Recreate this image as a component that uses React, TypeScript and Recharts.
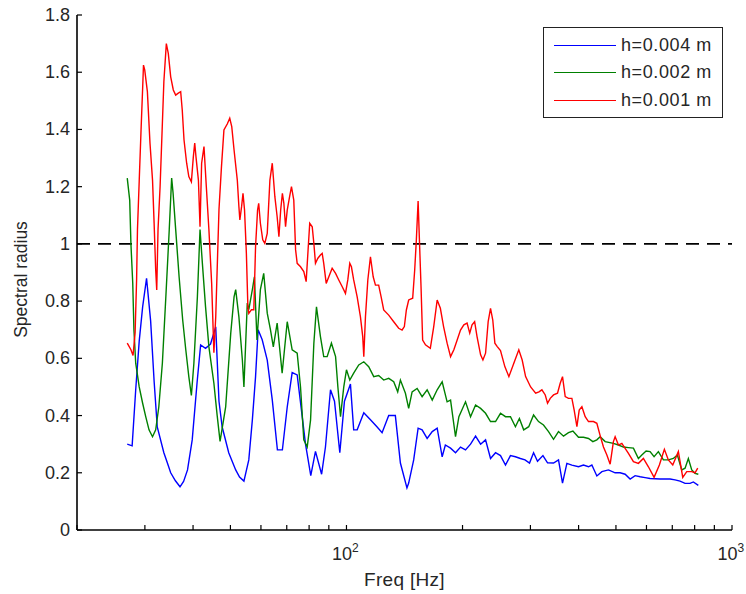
import React from 'react';
import { LineChart, Line, XAxis, YAxis, ReferenceLine, Legend } from 'recharts';

// [frequency in Hz, spectral radius]
const blueSeries: [number, number][] = [
  [27.0, 0.30], [27.8, 0.294], [28.4, 0.49], [29.0, 0.66], [29.6, 0.78], [30.3, 0.88], [31.05, 0.73], [31.7, 0.52],
  [32.3, 0.36], [33.6, 0.27], [34.3, 0.235], [35.0, 0.20], [36.0, 0.172], [37.0, 0.151], [37.8, 0.17], [38.7, 0.21], [39.8, 0.315], [41.0, 0.52], [41.85, 0.647],
  [43.1, 0.635], [44.4, 0.65], [45.8, 0.71], [46.7, 0.45], [47.6, 0.36], [49.5, 0.27], [51.6, 0.21], [52.8, 0.185], [54.2, 0.171],
  [55.8, 0.245], [57.0, 0.385], [58.1, 0.536], [59.0, 0.70], [60.45, 0.665], [62.3, 0.594], [64.2, 0.455], [66.2, 0.28],
  [68.2, 0.28], [70.2, 0.43], [72.3, 0.55], [74.5, 0.542], [76.4, 0.42], [78.3, 0.30], [80.8, 0.19], [83.1, 0.275],
  [86.2, 0.195], [88.2, 0.29], [90.9, 0.49], [93.1, 0.45], [96.1, 0.27], [98.8, 0.45], [102.4, 0.51], [104.4, 0.35],
  [106.6, 0.35], [110.9, 0.41], [115.4, 0.385], [120.1, 0.36], [123.7, 0.34], [128.7, 0.40], [133.9, 0.40], [138.0, 0.234],
  [143.5, 0.147], [145.0, 0.164], [149.4, 0.245], [153.4, 0.356], [157.1, 0.35], [161.9, 0.32], [166.9, 0.344], [171.9, 0.356],
  [177.1, 0.256], [180.5, 0.297], [186.2, 0.286], [191.8, 0.27], [197.6, 0.29], [203.6, 0.28], [209.8, 0.30], [216.2, 0.328],
  [222.8, 0.30], [229.5, 0.315], [236.4, 0.25], [243.6, 0.27], [250.9, 0.26], [258.5, 0.227], [266.3, 0.26], [274.3, 0.256],
  [282.6, 0.25], [290.5, 0.245], [298.4, 0.234], [305.7, 0.27], [313.0, 0.24], [323.3, 0.26], [332.3, 0.235], [344.4, 0.234],
  [354.8, 0.245], [363.4, 0.164], [373.0, 0.233], [384.3, 0.227], [399.8, 0.221], [411.9, 0.227], [424.4, 0.221], [433.0, 0.227],
  [446.1, 0.189], [459.7, 0.204], [478.1, 0.21], [497.6, 0.2], [512.6, 0.2], [528.2, 0.195], [544.2, 0.178], [560.7, 0.19],
  [577.8, 0.186], [595.1, 0.183], [613.1, 0.18], [650.8, 0.178], [690.8, 0.178], [711.7, 0.175], [733.3, 0.171], [755.5, 0.163],
  [778.3, 0.163], [793.8, 0.168], [817.8, 0.156],
];

const greenSeries: [number, number][] = [
  [27.0, 1.23], [27.4, 1.153], [27.6, 1.0], [27.9, 0.863], [28.1, 0.70], [28.4, 0.583], [29.0, 0.50], [29.6, 0.443],
  [30.15, 0.396], [30.75, 0.35], [31.4, 0.326], [32.0, 0.35], [32.6, 0.43], [33.3, 0.583], [34.0, 0.815], [34.7, 1.05],
  [35.2, 1.23], [35.5, 1.178], [36.06, 1.05], [36.8, 0.885], [37.6, 0.734], [38.3, 0.63], [39.0, 0.536], [39.6, 0.47],
  [40.2, 0.583], [41.05, 0.815], [41.7, 1.05], [42.3, 0.93], [43.1, 0.78], [43.97, 0.64], [45.3, 0.513], [46.2, 0.40], [47.0, 0.31],
  [48.6, 0.43], [50.1, 0.688], [51.1, 0.815], [51.6, 0.84], [52.6, 0.745], [53.7, 0.594], [54.2, 0.50], [55.3, 0.793],
  [55.8, 0.77], [57.0, 0.84], [57.7, 0.885], [58.6, 0.664], [59.8, 0.84], [61.0, 0.897], [62.3, 0.758], [63.5, 0.70],
  [64.6, 0.64], [66.1, 0.723], [68.1, 0.548], [70.2, 0.728], [72.3, 0.63], [74.5, 0.618], [76.0, 0.50], [77.5, 0.315],
  [79.1, 0.29], [80.7, 0.385], [82.3, 0.653], [83.6, 0.78], [85.6, 0.676], [87.3, 0.606], [89.1, 0.606], [91.4, 0.653],
  [93.7, 0.606], [95.0, 0.50], [96.5, 0.396], [98.4, 0.50], [100, 0.56], [102.0, 0.524], [104.4, 0.548], [107.6, 0.577],
  [110.9, 0.588], [114.2, 0.571], [117.7, 0.536], [121.2, 0.54], [124.9, 0.524], [128.7, 0.53], [132.6, 0.518], [135.8, 0.483],
  [138.0, 0.524], [142.2, 0.478], [145.0, 0.425], [148.0, 0.483], [152.5, 0.495], [157.1, 0.466], [161.9, 0.49], [166.9, 0.454],
  [171.9, 0.49], [177.1, 0.518], [182.4, 0.448], [186.2, 0.454], [191.8, 0.326], [195.7, 0.396], [203.6, 0.448], [209.8, 0.396],
  [216.2, 0.437], [222.8, 0.425], [229.5, 0.408], [236.4, 0.379], [243.6, 0.379], [250.9, 0.408], [258.5, 0.396], [266.3, 0.396],
  [274.3, 0.361], [280.9, 0.39], [288.2, 0.35], [297.0, 0.361], [305.7, 0.402], [314.9, 0.379], [324.4, 0.367], [334.3, 0.344],
  [344.4, 0.317], [354.8, 0.344], [365.6, 0.328], [376.6, 0.34], [386.7, 0.346], [399.8, 0.324], [411.9, 0.324], [424.4, 0.32],
  [435.6, 0.309], [446.1, 0.315], [455.0, 0.326], [468.8, 0.309], [492.5, 0.303], [507.5, 0.297], [522.8, 0.29], [538.7, 0.288],
  [555.0, 0.286], [571.8, 0.25], [583.5, 0.262], [598.7, 0.276], [613.1, 0.274], [627.9, 0.256], [644.2, 0.274], [663.8, 0.245],
  [683.8, 0.245], [704.5, 0.25], [721.6, 0.262], [740.7, 0.21], [755.5, 0.216], [770.5, 0.25], [786.3, 0.21], [801.9, 0.198],
  [817.8, 0.195],
];

const redSeries: [number, number][] = [
  [27.0, 0.653], [27.6, 0.63], [27.95, 0.61], [28.3, 0.69], [28.55, 0.874], [28.7, 1.05], [29.0, 1.22], [29.3, 1.387],
  [29.6, 1.544], [29.75, 1.625], [29.97, 1.608], [30.45, 1.532], [30.93, 1.352], [31.4, 1.223], [31.7, 1.072], [32.0, 0.909],
  [32.2, 0.839], [32.45, 1.05], [32.85, 1.20], [33.3, 1.42], [33.6, 1.567], [34.1, 1.70], [34.5, 1.666], [35.0, 1.584],
  [35.55, 1.538], [36.06, 1.52], [36.55, 1.526], [37.15, 1.532], [37.5, 1.468], [37.9, 1.363], [38.5, 1.282], [39.0, 1.235],
  [39.6, 1.217], [40.07, 1.305], [40.4, 1.352], [40.7, 1.305], [41.3, 1.223], [41.7, 1.06], [42.1, 1.282], [42.7, 1.34],
  [43.3, 1.20], [43.97, 1.05], [44.7, 0.862], [45.3, 0.62], [45.8, 0.745], [46.7, 1.12], [47.4, 1.27], [48.1, 1.398],
  [49.1, 1.42], [49.8, 1.439], [50.4, 1.41], [51.1, 1.328], [52.1, 1.223], [52.6, 1.13], [52.9, 1.084], [53.45, 1.13],
  [53.9, 1.177], [54.4, 1.118], [55.0, 0.967], [55.5, 0.78], [55.8, 0.757], [56.7, 0.77], [57.5, 0.77], [58.1, 0.99],
  [58.8, 1.118], [59.2, 1.142], [59.8, 1.072], [60.65, 1.014], [61.4, 1.002], [62.3, 1.037], [63.3, 1.223], [64.2, 1.282],
  [65.2, 1.165], [66.1, 1.095], [66.8, 1.025], [67.5, 1.118], [68.2, 1.177], [68.8, 1.142], [69.5, 1.06], [70.2, 1.118],
  [71.2, 1.165], [72.0, 1.20], [73.0, 1.153], [73.8, 0.979], [74.5, 0.932], [76.0, 0.92], [77.5, 0.903], [78.6, 0.868],
  [79.6, 0.99], [80.3, 1.072], [81.5, 1.06], [82.3, 1.002], [83.1, 0.932], [84.3, 0.95], [85.6, 0.961], [86.5, 0.967],
  [87.3, 0.932], [88.6, 0.862], [90.0, 0.885], [91.8, 0.915], [93.7, 0.897], [95.5, 0.874], [97.5, 0.85], [99.4, 0.827],
  [100.8, 0.874], [102.0, 0.932], [103.0, 0.92], [104.4, 0.874], [106.6, 0.815], [108.7, 0.745], [110.2, 0.676], [110.9, 0.606],
  [112.0, 0.745], [113.6, 0.874], [115.4, 0.955], [117.3, 0.885], [118.9, 0.856], [121.2, 0.856], [123.0, 0.815], [124.9, 0.769],
  [128.7, 0.751], [132.6, 0.728], [136.6, 0.705], [139.4, 0.699], [141.3, 0.711], [143.0, 0.769], [145.0, 0.804], [148.5, 0.81],
  [150.3, 0.909], [151.8, 1.014], [153.4, 1.15], [154.6, 1.014], [156.1, 0.85], [157.6, 0.664], [160.3, 0.647], [165.0, 0.635],
  [168.4, 0.711], [171.9, 0.804], [175.2, 0.775], [178.6, 0.711], [182.4, 0.653], [186.2, 0.606], [189.9, 0.63], [193.7, 0.664],
  [197.6, 0.699], [201.6, 0.717], [205.5, 0.723], [208.8, 0.688], [211.7, 0.717], [215.0, 0.728], [218.1, 0.676], [222.8, 0.612],
  [225.9, 0.594], [229.5, 0.618], [233.1, 0.728], [236.4, 0.775], [239.6, 0.734], [242.6, 0.653], [246.1, 0.641], [250.9, 0.627],
  [257.5, 0.571], [263.8, 0.536], [271.7, 0.583], [279.9, 0.63], [285.6, 0.594], [291.5, 0.536], [300.4, 0.50], [309.5, 0.478],
  [315.7, 0.483], [321.3, 0.49], [327.8, 0.472], [332.3, 0.443], [337.7, 0.46], [344.4, 0.472], [352.7, 0.478], [358.4, 0.513],
  [363.4, 0.536], [369.3, 0.466], [376.6, 0.46], [384.3, 0.46], [389.6, 0.419], [396.0, 0.361], [401.5, 0.419], [408.0, 0.431],
  [416.1, 0.396], [424.4, 0.379], [437.2, 0.379], [446.1, 0.373], [455.0, 0.33], [464.1, 0.29], [473.6, 0.262], [483.0, 0.23],
  [492.5, 0.309], [497.6, 0.326], [507.5, 0.297], [517.9, 0.303], [538.7, 0.268], [555.0, 0.239], [571.8, 0.233], [589.1, 0.25],
  [607.0, 0.221], [627.9, 0.184], [648.1, 0.227], [667.7, 0.282], [683.8, 0.245], [702.0, 0.227], [725.9, 0.274], [745.2, 0.184],
  [763.2, 0.204], [786.3, 0.204], [801.9, 0.20], [814.9, 0.216],
];

const xTicks = [20, 30, 40, 50, 60, 70, 80, 90, 100, 200, 300, 400, 500, 600, 700, 800, 900, 1000];
const xLabelExponents: Record<number, string> = { 100: '2', 1000: '3' };
const yTicks = [0, 0.2, 0.4, 0.6, 0.8, 1, 1.2, 1.4, 1.6, 1.8];
const seriesNames = ['h=0.004 m', 'h=0.002 m', 'h=0.001 m'];
const seriesColors = ['#0000ff', '#008000', '#ff0000'];
const thresholdValue = 1;

const FONT = '"Liberation Sans", Arial, Helvetica, sans-serif';
const TEXT_COLOR = '#262626';

const toRows = (s: [number, number][]) => s.map(([f, v]) => ({ f, v }));

const BottomTick = (props: any) => {
  const { x, y, payload } = props;
  const exp = xLabelExponents[payload.value];
  return (
    <g>
      <line x1={x} x2={x} y1={y} y2={y - 5} stroke="#000" strokeWidth={1.2} />
      {exp && (
        <text x={x - 14.5} y={y + 30} fontSize={18} fontFamily={FONT} fill={TEXT_COLOR} textAnchor="start">
          10
          <tspan dy={-8} fontSize={12}>{exp}</tspan>
        </text>
      )}
    </g>
  );
};

const TopTick = (props: any) => {
  const { x, y } = props;
  return <line x1={x} x2={x} y1={y} y2={y + 5} stroke="#000" strokeWidth={1.2} />;
};

const LeftTick = (props: any) => {
  const { x, y, payload } = props;
  const label = String(Number(payload.value.toFixed(1)));
  return (
    <g>
      <line x1={x} x2={x + 5} y1={y} y2={y} stroke="#000" strokeWidth={1.2} />
      <text x={x - 7} y={y + 6} fontSize={18} fontFamily={FONT} fill={TEXT_COLOR} textAnchor="end">
        {label}
      </text>
    </g>
  );
};

const RightTick = (props: any) => {
  const { x, y } = props;
  return <line x1={x} x2={x - 5} y1={y} y2={y} stroke="#000" strokeWidth={1.2} />;
};

const XLabel = (props: any) => {
  const { viewBox } = props;
  const cx = viewBox.x + viewBox.width / 2;
  return (
    <text x={cx} y={viewBox.y + 56} fontSize={19} fontFamily={FONT} fill={TEXT_COLOR} textAnchor="middle" letterSpacing={0.3}>
      Freq [Hz]
    </text>
  );
};

const YLabel = (props: any) => {
  const { viewBox } = props;
  const cy = viewBox.y + viewBox.height / 2 + 7;
  const bx = viewBox.x + 27;
  return (
    <text
      x={bx}
      y={cy}
      fontSize={17.5}
      fontFamily={FONT}
      fill={TEXT_COLOR}
      textAnchor="middle"
      transform={`rotate(-90, ${bx}, ${cy})`}
    >
      Spectral radius
    </text>
  );
};

const LegendBox = () => (
  <div
    style={{
      width: 180,
      height: 91,
      border: '1px solid #222',
      background: '#fff',
      boxSizing: 'border-box',
      position: 'relative',
      fontFamily: FONT,
      fontSize: 18,
      color: TEXT_COLOR,
    }}
  >
    {seriesNames.map((n, i) => (
      <div
        key={n}
        style={{
          position: 'absolute',
          left: 10,
          top: 17 + i * 27.7 - 11,
          height: 22,
          display: 'flex',
          alignItems: 'center',
          whiteSpace: 'nowrap',
        }}
      >
        <span style={{ display: 'inline-block', width: 62, height: 0, borderTop: `1.5px solid ${seriesColors[i]}` }} />
        <span style={{ marginLeft: 5, letterSpacing: 0.6 }}>{n}</span>
      </div>
    ))}
  </div>
);

export default function App() {
  const all = [blueSeries, greenSeries, redSeries];
  return (
    <div style={{ position: 'absolute', left: 0, top: 0, width: 746, height: 594, background: '#fff' }}>
      <LineChart width={746} height={594} margin={{ top: 15, right: 14, left: 0, bottom: 0 }}>
        <XAxis
          dataKey="f"
          type="number"
          scale="log"
          domain={[20, 1000]}
          allowDataOverflow
          ticks={xTicks}
          interval={0}
          height={64}
          tickSize={0}
          tickMargin={0}
          tickLine={false}
          tick={<BottomTick />}
          axisLine={{ stroke: '#000', strokeWidth: 1.6 }}
          label={<XLabel />}
        />
        <XAxis
          xAxisId="top"
          orientation="top"
          type="number"
          scale="log"
          domain={[20, 1000]}
          allowDataOverflow
          ticks={xTicks}
          interval={0}
          height={0}
          tickSize={0}
          tickMargin={0}
          tickLine={false}
          tick={<TopTick />}
          axisLine={{ stroke: '#000', strokeWidth: 1.6 }}
        />
        <YAxis
          type="number"
          domain={[0, 1.8]}
          allowDataOverflow
          ticks={yTicks}
          interval={0}
          width={77}
          tickSize={0}
          tickMargin={0}
          tickLine={false}
          tick={<LeftTick />}
          axisLine={{ stroke: '#000', strokeWidth: 1.6 }}
          label={<YLabel />}
        />
        <YAxis
          yAxisId="right"
          orientation="right"
          type="number"
          domain={[0, 1.8]}
          allowDataOverflow
          ticks={yTicks}
          interval={0}
          width={0}
          tickSize={0}
          tickMargin={0}
          tickLine={false}
          tick={<RightTick />}
          axisLine={{ stroke: '#000', strokeWidth: 1.6 }}
        />
        <ReferenceLine y={thresholdValue} stroke="#000" strokeWidth={1.8} strokeDasharray="13 8" />
        {all.map((s, i) => (
          <Line
            key={seriesNames[i]}
            data={toRows(s)}
            dataKey="v"
            name={seriesNames[i]}
            type="linear"
            stroke={seriesColors[i]}
            strokeWidth={1.4}
            dot={false}
            activeDot={false}
            isAnimationActive={false}
          />
        ))}
        <Legend
          layout="horizontal"
          verticalAlign="middle"
          align="center"
          content={<LegendBox />}
          wrapperStyle={{ left: 543, top: 27, width: 180, height: 91 }}
        />
      </LineChart>
    </div>
  );
}
